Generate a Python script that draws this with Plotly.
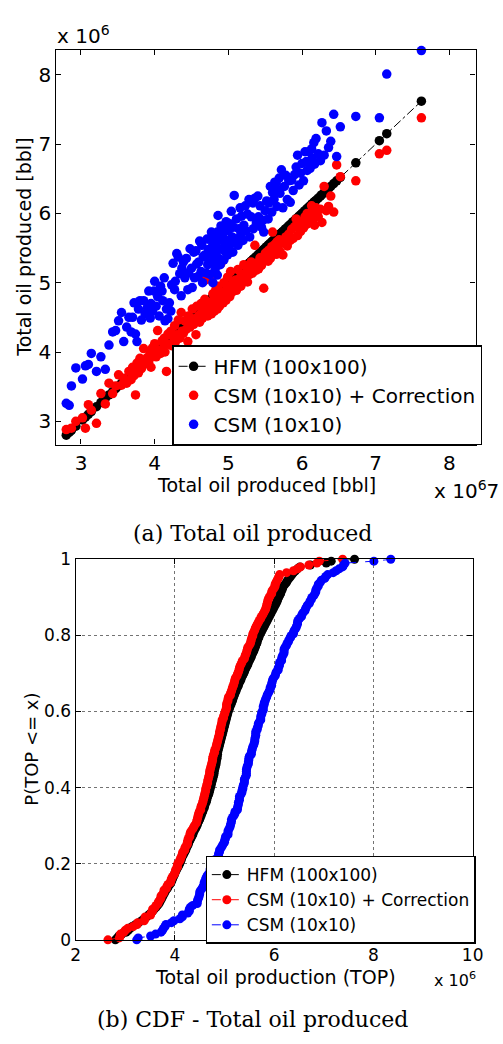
import numpy as np
import plotly.graph_objects as go

# Total oil produced per realization, in units of 1e6 bbl
hfm = [2.80, 2.84, 2.87, 2.93, 3.02, 3.06, 3.10, 3.14, 3.21, 3.27,
       3.33, 3.38, 3.43, 3.47, 3.51, 3.55, 3.58, 3.62, 3.65, 3.68,
       3.70, 3.72, 3.74, 3.76, 3.78, 3.80, 3.82, 3.85, 3.87, 3.90,
       3.92, 3.94, 3.95, 3.97, 3.99, 4.00, 4.02, 4.04, 4.06, 4.08,
       4.10, 4.11, 4.13, 4.14, 4.16, 4.18, 4.20, 4.22, 4.23, 4.25,
       4.27, 4.28, 4.30, 4.32, 4.34, 4.36, 4.37, 4.39, 4.41, 4.43,
       4.45, 4.46, 4.48, 4.50, 4.51, 4.53, 4.54, 4.56, 4.57, 4.59,
       4.60, 4.61, 4.63, 4.64, 4.65, 4.66, 4.68, 4.69, 4.70, 4.71,
       4.72, 4.73, 4.74, 4.75, 4.76, 4.77, 4.78, 4.79, 4.79, 4.80,
       4.81, 4.82, 4.83, 4.83, 4.84, 4.85, 4.85, 4.86, 4.86, 4.87,
       4.88, 4.89, 4.90, 4.91, 4.92, 4.93, 4.94, 4.95, 4.96, 4.97,
       4.98, 4.99, 5.00, 5.01, 5.02, 5.03, 5.04, 5.05, 5.06, 5.07,
       5.08, 5.10, 5.11, 5.13, 5.14, 5.16, 5.17, 5.18, 5.20, 5.21,
       5.23, 5.24, 5.26, 5.28, 5.29, 5.31, 5.33, 5.34, 5.36, 5.38,
       5.40, 5.41, 5.43, 5.45, 5.47, 5.48, 5.50, 5.52, 5.54, 5.55,
       5.57, 5.59, 5.60, 5.62, 5.63, 5.65, 5.66, 5.67, 5.69, 5.70,
       5.72, 5.74, 5.76, 5.78, 5.80, 5.82, 5.84, 5.86, 5.88, 5.90,
       5.92, 5.94, 5.96, 5.98, 6.00, 6.02, 6.04, 6.06, 6.07, 6.09,
       6.11, 6.13, 6.14, 6.16, 6.17, 6.19, 6.22, 6.25, 6.27, 6.30,
       6.33, 6.36, 6.39, 6.43, 6.47, 6.52, 6.73, 7.05, 7.15, 7.62]

csm_corrected = [2.88, 2.65, 2.90, 3.00, 3.05, 2.90, 3.24, 3.16, 2.97, 3.40,
                 3.25, 3.55, 3.40, 3.51, 3.67, 3.52, 3.62, 3.55, 3.72, 3.60,
                 3.78, 3.66, 3.38, 3.84, 3.70, 3.91, 3.76, 4.05, 3.83, 3.92,
                 3.86, 4.01, 3.78, 4.06, 3.95, 4.12, 3.93, 4.31, 4.02, 3.98,
                 4.16, 4.05, 4.20, 4.00, 3.72, 4.26, 4.11, 4.30, 4.09, 4.22,
                 4.38, 4.14, 4.25, 4.46, 4.20, 4.57, 4.30, 4.27, 4.45, 4.33,
                 4.15, 4.52, 4.36, 4.44, 4.62, 4.40, 4.48, 4.25, 4.66, 4.47,
                 4.53, 4.43, 4.70, 4.56, 4.49, 4.60, 4.76, 5.04, 4.58, 4.64,
                 4.52, 4.69, 4.61, 5.07, 4.67, 4.55, 4.73, 4.64, 4.84, 4.70,
                 4.59, 4.76, 4.68, 4.90, 4.72, 4.62, 4.80, 4.74, 4.95, 4.78,
                 4.66, 4.83, 5.28, 4.77, 4.86, 4.71, 5.00, 4.82, 4.88, 4.75,
                 4.92, 5.08, 4.85, 4.94, 4.80, 5.16, 4.90, 4.98, 4.87, 5.02,
                 4.93, 5.04, 4.89, 5.19, 4.98, 5.07, 4.95, 5.12, 5.04, 5.26,
                 5.05, 5.15, 5.01, 5.21, 5.12, 5.30, 5.14, 5.22, 5.54, 5.18,
                 5.29, 5.20, 5.36, 5.25, 5.33, 4.92, 5.42, 5.44, 5.31, 5.47,
                 5.35, 5.52, 5.73, 5.46, 5.55, 5.41, 5.59, 5.50, 5.62, 5.45,
                 5.57, 5.40, 5.57, 5.66, 5.53, 5.70, 5.61, 5.77, 5.64, 5.81,
                 5.92, 5.68, 5.85, 5.74, 5.88, 5.79, 5.95, 5.84, 6.00, 5.86,
                 5.97, 6.11, 5.90, 6.02, 5.83, 6.08, 5.95, 6.06, 5.87, 6.39,
                 6.04, 6.10, 6.25, 6.02, 6.70, 6.53, 6.47, 6.86, 6.91, 7.38]

csm = [3.26, 3.23, 3.51, 3.77, 3.61, 3.80, 3.82, 3.98, 3.72, 3.93,
       3.75, 4.10, 4.29, 4.31, 4.45, 4.57, 4.15, 4.36, 4.50, 4.29,
       4.50, 4.71, 4.26, 4.15, 4.62, 4.74, 4.46, 4.74, 4.55, 4.64,
       4.88, 4.49, 4.70, 4.59, 4.88, 5.02, 4.66, 4.80, 4.52, 4.95,
       4.88, 4.74, 5.07, 4.45, 4.62, 4.48, 4.71, 4.59, 4.97, 5.28,
       4.90, 5.02, 5.42, 5.37, 5.13, 4.81, 5.21, 5.30, 5.07, 5.35,
       4.90, 5.14, 5.49, 5.21, 4.93, 5.44, 5.07, 5.46, 5.27, 5.09,
       5.30, 5.60, 5.16, 5.54, 5.00, 5.38, 5.40, 5.37, 5.14, 5.63,
       5.26, 5.48, 5.63, 5.12, 5.44, 5.73, 5.30, 5.55, 5.00, 5.40,
       5.68, 5.19, 5.44, 5.59, 5.28, 5.11, 5.73, 5.50, 5.97, 5.35,
       5.62, 5.26, 5.82, 5.48, 5.68, 5.78, 5.33, 5.57, 5.45, 5.88,
       5.61, 5.40, 5.75, 5.49, 5.85, 5.56, 6.03, 5.66, 5.44, 5.80,
       6.26, 5.63, 5.92, 5.54, 5.78, 6.08, 5.70, 5.96, 5.61, 5.83,
       6.11, 5.75, 5.99, 6.20, 5.66, 5.95, 6.15, 5.78, 6.22, 5.86,
       6.25, 5.95, 6.11, 5.80, 5.90, 5.73, 6.04, 6.18, 5.92, 6.15,
       6.39, 6.02, 6.30, 6.20, 6.45, 6.44, 6.10, 6.34, 6.51, 6.29,
       6.63, 6.08, 6.39, 6.55, 6.20, 6.47, 6.16, 6.48, 6.33, 6.56,
       6.67, 6.84, 6.41, 6.58, 6.72, 6.47, 6.89, 6.75, 6.62, 6.89,
       6.65, 6.93, 6.80, 7.02, 6.71, 7.08, 6.86, 6.76, 7.31, 6.84,
       7.19, 6.95, 7.04, 7.43, 6.82, 7.25, 7.40, 7.38, 8.01, 8.35]

series_names = ["HFM (100x100)", "CSM (10x10) + Correction", "CSM (10x10)"]
series_colors = ["#000000", "#ff0000", "#0000ff"]
scale = 1e6

W, H = 503, 1044
SANS = "DejaVu Sans"
SERIF = "DejaVu Serif"


def fx(p):
    return p / W


def fy(p):
    return 1 - p / H


h = np.array(hfm) * scale
r = np.array(csm_corrected) * scale
b = np.array(csm) * scale
order = np.argsort(h)

fig = go.Figure()

# (a) cross-plot against the high-fidelity model
fig.add_trace(go.Scatter(
    x=h[order], y=h[order], mode="lines+markers", name=series_names[0],
    line=dict(color=series_colors[0], width=1, dash="dashdot"),
    marker=dict(size=9.5, color=series_colors[0]),
    xaxis="x", yaxis="y", legend="legend", cliponaxis=False))
fig.add_trace(go.Scatter(
    x=h, y=r, mode="markers", name=series_names[1],
    marker=dict(size=9.5, color=series_colors[1]),
    xaxis="x", yaxis="y", legend="legend", cliponaxis=False))
fig.add_trace(go.Scatter(
    x=h, y=b, mode="markers", name=series_names[2],
    marker=dict(size=9.5, color=series_colors[2]),
    xaxis="x", yaxis="y", legend="legend", cliponaxis=False))

# (b) empirical CDFs
for vals, name, col in zip([h, r, b], series_names, series_colors):
    s = np.sort(vals)
    p = np.arange(len(s)) / (len(s) - 1)
    fig.add_trace(go.Scatter(
        x=s, y=p, mode="lines+markers", name=name,
        line=dict(color=col, width=1, dash="dash"),
        marker=dict(size=9, color=col),
        xaxis="x2", yaxis="y2", legend="legend2", cliponaxis=False))

lo, hi = 2.665 * scale, 8.355 * scale
top_tick = dict(size=20, family=SANS, color="black")
bot_tick = dict(size=17, family=SANS, color="black")

common = dict(showline=True, linecolor="black", linewidth=1.3, mirror="ticks",
              ticks="inside", ticklen=5, tickcolor="black", zeroline=False)

fig.update_layout(
    width=W, height=H, margin=dict(l=0, r=0, t=0, b=0),
    paper_bgcolor="white", plot_bgcolor="white",
    font=dict(family=SANS, color="black"),
    xaxis=dict(domain=[fx(53), fx(486)], anchor="y", range=[lo, hi],
               tickvals=[v * scale for v in range(3, 9)],
               ticktext=[str(v) for v in range(3, 9)],
               tickfont=top_tick, showgrid=False, **common),
    yaxis=dict(domain=[fy(443), fy(41)], anchor="x", range=[lo, hi],
               tickvals=[v * scale for v in range(3, 9)],
               ticktext=[str(v) for v in range(3, 9)],
               tickfont=top_tick, showgrid=False, **common),
    xaxis2=dict(domain=[fx(73), fx(483)], anchor="y2", range=[2 * scale, 10 * scale],
                tickvals=[v * scale for v in range(2, 11, 2)],
                ticktext=[str(v) for v in range(2, 11, 2)],
                tickfont=bot_tick, showgrid=True, gridcolor="rgba(0,0,0,0.55)",
                griddash="dot", gridwidth=1, **common),
    yaxis2=dict(domain=[fy(948), fy(560)], anchor="x2", range=[0, 1],
                tickvals=[0, 0.2, 0.4, 0.6, 0.8, 1],
                ticktext=["0", "0.2", "0.4", "0.6", "0.8", "1"],
                tickfont=bot_tick, showgrid=True, gridcolor="rgba(0,0,0,0.55)",
                griddash="dot", gridwidth=1, **common),
    legend=dict(x=fx(493), y=fy(444), xanchor="right", yanchor="bottom",
                bgcolor="white", bordercolor="black", borderwidth=1.3,
                font=dict(family=SANS, size=20, color="black"),
                itemwidth=30, tracegroupgap=0),
    legend2=dict(x=fx(486), y=fy(952), xanchor="right", yanchor="bottom",
                 bgcolor="white", bordercolor="black", borderwidth=1.3,
                 font=dict(family=SANS, size=17, color="black"),
                 itemwidth=30, tracegroupgap=0),
    showlegend=True,
)

ann = []


def label(text, x, y, size, xanchor="center", yanchor="middle", angle=0, family=SANS):
    ann.append(dict(text=text, x=fx(x), y=fy(y), xref="paper", yref="paper",
                    xanchor=xanchor, yanchor=yanchor, textangle=angle,
                    showarrow=False, font=dict(family=family, size=size, color="black")))


label("Total oil produced [bbl]", 270, 484, 19)
label("Total oil produced [bbl]", 20, 242, 19, angle=-90)
label("x 10<sup>6</sup>", 52, 41, 20, xanchor="left", yanchor="bottom")
label("x 10<sup>6</sup>7", 512, 505, 20, xanchor="right", yanchor="bottom")
label("(a) Total oil produced", 256, 534, 22, family=SERIF)

label("Total oil production (TOP)", 279, 986, 19)
label("P(TOP <= x)", 27, 754, 18, angle=-90)
label("x 10<sup>6</sup>", 489, 1001, 16, xanchor="right", yanchor="bottom")
label("(b) CDF - Total oil produced", 256, 1029, 22, family=SERIF)

fig.update_layout(annotations=ann)

fig.write_html("out.html")
